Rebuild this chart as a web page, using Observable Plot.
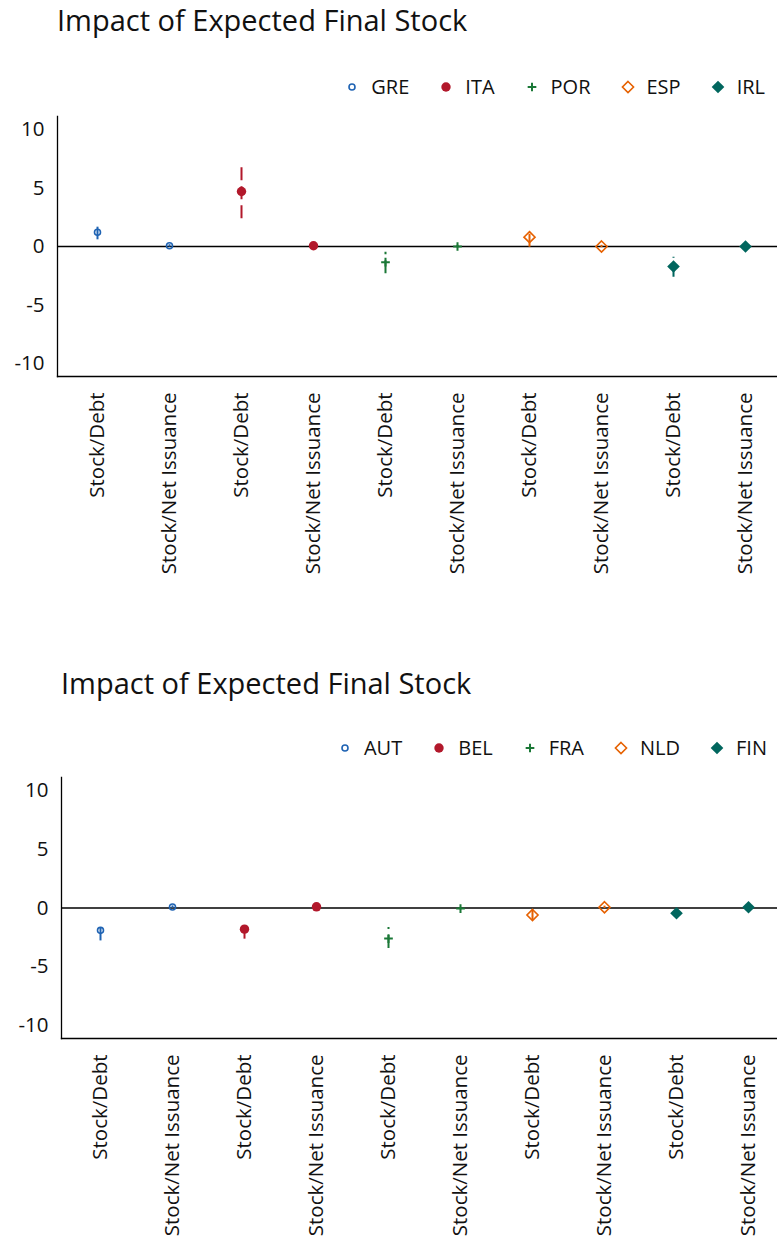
<!DOCTYPE html>
<html>
<head>
<meta charset="utf-8">
<script src="https://cdn.jsdelivr.net/npm/d3@7"></script>
<script src="https://cdn.jsdelivr.net/npm/@observablehq/plot@0.6"></script>
<style>
  html, body { margin: 0; padding: 0; background: #fff; overflow: hidden; }
  body { width: 777px; height: 1239px; position: relative; font-family: "Open Sans", "Noto Sans", sans-serif; color: #111; }
  .title { position: absolute; font-size: 29px; white-space: nowrap; line-height: 1; }
  .legend { position: absolute; display: flex; align-items: center; font-size: 20px; line-height: 1; white-space: nowrap; }
  .legend .item { display: flex; align-items: center; margin-left: 30px; }
  .legend .item svg { margin-right: 12px; overflow: visible; }
  .chart { position: absolute; left: 0; }
  .chart svg { overflow: visible; }
</style>
</head>
<body>
<script>
// ---- data ----
const titleText = "Impact of Expected Final Stock";
const specs = ["Stock/Debt", "Stock/Net Issuance"];
const yTicks = [-10, -5, 0, 5, 10];

const countriesA = ["GRE", "ITA", "POR", "ESP", "IRL"];
const debtCoefA = [1.22, 4.7, -1.34, 0.8, -1.71];
const debtLoA   = [0.57, 2.37, -2.33, -0.06, -2.62];
const debtHiA   = [1.65, 6.73, -0.49, 1.22, -0.91];
const netCoefA  = [0.06, 0.06, 0.0, 0.0, 0.0];
const netLoA    = [-0.05, -0.05, -0.1, -0.1, -0.1];
const netHiA    = [0.15, 0.15, 0.1, 0.1, 0.1];

const countriesB = ["AUT", "BEL", "FRA", "NLD", "FIN"];
const debtCoefB = [-1.9, -1.8, -2.6, -0.6, -0.45];
const debtLoB   = [-2.8, -2.65, -3.45, -1.05, -0.75];
const debtHiB   = [-1.55, -1.3, -1.65, -0.15, -0.15];
const netCoefB  = [0.08, 0.1, -0.05, 0.06, 0.06];
const netLoB    = [-0.02, 0.0, -0.15, -0.04, -0.04];
const netHiB    = [0.18, 0.2, 0.05, 0.16, 0.16];

// ---- marker styles (by series position) ----
const colors  = ["#1f63b3", "#b2182b", "#1b7837", "#e66101", "#01665e"];
const symbols = ["circle", "circle", "plus", "diamond2", "diamond2"];
const filled  = [false, true, false, false, true];
const radii   = [3.0, 4.7, 2.9, 5.0, 5.7];
const d3Symbols = [d3.symbolCircle, d3.symbolCircle, d3.symbolPlus, d3.symbolDiamond2, d3.symbolDiamond2];

function buildRows(countries, dc, dl, dh, nc, nl, nh) {
  const rows = [];
  countries.forEach((c, i) => {
    rows.push({country: c, idx: i, spec: specs[0], key: c + "|" + specs[0], v: dc[i], lo: dl[i], hi: dh[i]});
    rows.push({country: c, idx: i, spec: specs[1], key: c + "|" + specs[1], v: nc[i], lo: nl[i], hi: nh[i]});
  });
  return rows;
}

function makeTitle(top, left) {
  const d = document.createElement("div");
  d.className = "title";
  d.style.top = top + "px";
  d.style.left = left + "px";
  d.textContent = titleText;
  document.body.appendChild(d);
}

function makeLegend(countries, top, right) {
  const d = document.createElement("div");
  d.className = "legend";
  d.style.top = top + "px";
  d.style.right = right + "px";
  countries.forEach((c, i) => {
    const it = document.createElement("div");
    it.className = "item";
    const s = d3.create("svg").attr("width", 14).attr("height", 14).attr("viewBox", "-7 -7 14 14");
    const size = Math.PI * radii[i] * radii[i];
    s.append("path")
      .attr("d", d3.symbol(d3Symbols[i], size)())
      .attr("fill", filled[i] ? colors[i] : "none")
      .attr("stroke", colors[i])
      .attr("stroke-width", filled[i] ? 0 : (symbols[i] === "plus" ? 2 : 1.6));
    it.appendChild(s.node());
    const t = document.createElement("span");
    t.textContent = c;
    it.appendChild(t);
    d.appendChild(it);
  });
  document.body.appendChild(d);
}

function makeChart(rows, countries, opts) {
  const marks = [
    Plot.ruleY([0], {stroke: "#000", strokeWidth: 1.3}),
    Plot.frame({anchor: "left", stroke: "#000", strokeWidth: 1.3}),
    Plot.frame({anchor: "bottom", stroke: "#000", strokeWidth: 1.3}),
    Plot.axisY({ticks: yTicks, tickSize: 0, tickPadding: 13, fontSize: 20.5, label: null, tickFormat: d => d < 0 ? "-" + Math.abs(d) : String(d)}),
    Plot.axisX({tickSize: 0, tickPadding: 16, tickRotate: -90, fontSize: 20.5, label: null, tickFormat: k => k.split("|")[1]})
  ];
  countries.forEach((c, i) => {
    const sub = rows.filter(r => r.country === c);
    marks.push(Plot.ruleX(sub, {x: "key", y1: "lo", y2: "hi", stroke: colors[i], strokeWidth: 2, strokeDasharray: "13,6"}));
    marks.push(Plot.dot(sub, {
      x: "key", y: "v", symbol: () => symbols[i], r: radii[i],
      fill: filled[i] ? colors[i] : "none",
      stroke: colors[i],
      strokeWidth: filled[i] ? 0 : (symbols[i] === "plus" ? 2 : 1.6)
    }));
  });
  const svg = Plot.plot({
    width: 777,
    height: opts.height,
    marginTop: opts.marginTop,
    marginBottom: opts.marginBottom,
    marginLeft: opts.left,
    marginRight: 0,
    style: {fontFamily: '"Open Sans", "Noto Sans", sans-serif', fontSize: "20.5px", color: "#111", background: "transparent", overflow: "visible"},
    x: {type: "band", domain: rows.map(r => r.key), range: [opts.left, opts.right], padding: 0, axis: null, label: null},
    y: {domain: [-11.1, 11.1], axis: null, label: null},
    symbol: {type: "identity"},
    marks
  });
  const wrap = document.createElement("div");
  wrap.className = "chart";
  wrap.style.top = opts.top + "px";
  wrap.appendChild(svg);
  document.body.appendChild(wrap);
}

const rowsA = buildRows(countriesA, debtCoefA, debtLoA, debtHiA, netCoefA, netLoA, netHiA);
const rowsB = buildRows(countriesB, debtCoefB, debtLoB, debtHiB, netCoefB, netLoB, netHiB);

makeTitle(5, 57);
makeLegend(countriesA, 77, 12);
makeChart(rowsA, countriesA, {top: 100, height: 500, marginTop: 16, marginBottom: 224, left: 57, right: 784});

makeTitle(668, 61);
makeLegend(countriesB, 738, 10);
makeChart(rowsB, countriesB, {top: 760, height: 479, marginTop: 17, marginBottom: 201, left: 61, right: 787});
</script>
</body>
</html>
